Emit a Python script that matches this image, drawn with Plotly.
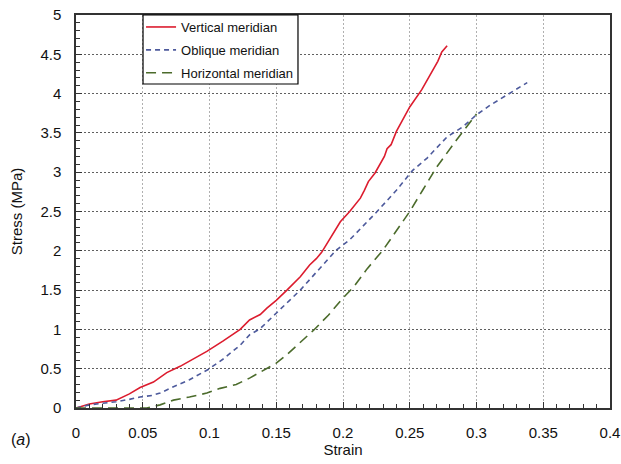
import plotly.graph_objects as go

# Stress-strain curves along three meridians
vertical_strain = [0, 0.01, 0.02, 0.03, 0.04, 0.048, 0.058, 0.068, 0.078, 0.088, 0.098,
                   0.110, 0.123, 0.130, 0.138, 0.143, 0.150, 0.158, 0.168, 0.175, 0.180,
                   0.184, 0.190, 0.198, 0.205, 0.213, 0.216, 0.219, 0.224, 0.228, 0.231,
                   0.233, 0.236, 0.240, 0.250, 0.259, 0.263, 0.266, 0.271, 0.274, 0.278]
vertical_stress = [0, 0.05, 0.08, 0.10, 0.18, 0.26, 0.33, 0.45, 0.53, 0.62, 0.72,
                   0.85, 1.00, 1.12, 1.19, 1.27, 1.37, 1.50, 1.67, 1.82, 1.90,
                   1.98, 2.14, 2.37, 2.50, 2.67, 2.77, 2.88, 2.99, 3.11, 3.20,
                   3.30, 3.35, 3.52, 3.83, 4.05, 4.17, 4.26, 4.41, 4.53, 4.61]

oblique_strain = [0, 0.01, 0.02, 0.03, 0.04, 0.048, 0.057, 0.063, 0.073, 0.085, 0.099,
                  0.110, 0.123, 0.130, 0.138, 0.150, 0.160, 0.168, 0.180, 0.190, 0.195,
                  0.205, 0.215, 0.225, 0.240, 0.252, 0.263, 0.278, 0.290, 0.300, 0.310,
                  0.323, 0.330, 0.338]
oblique_stress = [0, 0.04, 0.06, 0.08, 0.11, 0.14, 0.16, 0.19, 0.27, 0.36, 0.49,
                  0.62, 0.80, 0.93, 1.01, 1.20, 1.37, 1.50, 1.73, 1.92, 2.01,
                  2.14, 2.31, 2.49, 2.77, 3.02, 3.18, 3.45, 3.58, 3.73, 3.85,
                  3.98, 4.05, 4.14]

horizontal_strain = [0, 0.04, 0.053, 0.063, 0.073, 0.085, 0.098, 0.108, 0.120, 0.130,
                     0.137, 0.150, 0.158, 0.168, 0.178, 0.189, 0.200, 0.208, 0.218,
                     0.230, 0.240, 0.250, 0.260, 0.270, 0.285, 0.300]
horizontal_stress = [0, 0.0, 0.0, 0.04, 0.10, 0.14, 0.19, 0.25, 0.30, 0.38,
                     0.45, 0.57, 0.68, 0.83, 0.99, 1.18, 1.40, 1.54, 1.77,
                     2.01, 2.25, 2.50, 2.78, 3.06, 3.41, 3.74]

x_ticks = [0, 0.05, 0.1, 0.15, 0.2, 0.25, 0.3, 0.35, 0.4]
y_ticks = [0, 0.5, 1, 1.5, 2, 2.5, 3, 3.5, 4, 4.5, 5]

FONT = "Arial, Liberation Sans, Helvetica, sans-serif"

fig = go.Figure()
fig.add_trace(go.Scatter(x=vertical_strain, y=vertical_stress, mode="lines",
                         name="Vertical meridian", legendgroup="v",
                         line=dict(color="#dc1c2e", width=1.6)))
fig.add_trace(go.Scatter(x=oblique_strain, y=oblique_stress, mode="lines",
                         name="Oblique meridian", legendgroup="o",
                         line=dict(color="#4d5a9c", width=1.6, dash="5px,4px")))
fig.add_trace(go.Scatter(x=horizontal_strain, y=horizontal_stress, mode="lines",
                         name="Horizontal meridian", legendgroup="h",
                         line=dict(color="#4b6b2b", width=1.6, dash="10px,6px")))

fig.update_layout(
    width=621, height=464,
    margin=dict(l=76, r=11, t=15, b=56),
    paper_bgcolor="white", plot_bgcolor="white",
    font=dict(family=FONT, size=15, color="#111"),
    showlegend=True,
    legend=dict(x=0.1218, y=1.0076, xanchor="left", yanchor="top",
                borderwidth=0, bgcolor="rgba(0,0,0,0)",
                font=dict(size=13, color="#111"), tracegroupgap=3,
                itemwidth=30),
    shapes=[dict(type="rect", xref="paper", yref="paper",
                 x0=0.1255, x1=0.4157, y0=0.8244, y1=1.0,
                 line=dict(color="black", width=1.2), fillcolor="white",
                 layer="above")],
    annotations=[dict(text="(<i>a</i>)", x=-0.125, y=-0.08, xref="paper", yref="paper",
                      xanchor="left", yanchor="middle", showarrow=False,
                      font=dict(size=16, color="#111"))],
)

fig.update_xaxes(
    range=[0, 0.4], tickvals=x_ticks, ticktext=[f"{v:g}" for v in x_ticks],
    ticks="inside", ticklen=6, tickcolor="#333", ticklabelstandoff=10,
    minor=dict(ticks="inside", dtick=0.01, ticklen=4, tickcolor="#333", showgrid=False),
    showgrid=True, gridcolor="#b0b0b0", griddash="2px,2px", gridwidth=1,
    showline=True, linecolor="#333", linewidth=1.5, mirror=True,
    zeroline=False, automargin=False,
    title=dict(text="Strain", standoff=0, font=dict(size=15)),
)
fig.update_yaxes(
    range=[0, 5], tickvals=y_ticks, ticktext=[f"{v:g}" for v in y_ticks],
    ticks="inside", ticklen=6, tickcolor="#333", ticklabelstandoff=10,
    minor=dict(ticks="inside", dtick=0.1, ticklen=4, tickcolor="#333", showgrid=False),
    showgrid=True, gridcolor="#606060", griddash="2px,2px", gridwidth=1,
    showline=True, linecolor="#333", linewidth=1.5, mirror=True,
    zeroline=False, automargin=False,
    title=dict(text="Stress (MPa)", standoff=14, font=dict(size=15)),
)

fig.write_html("out.html")
